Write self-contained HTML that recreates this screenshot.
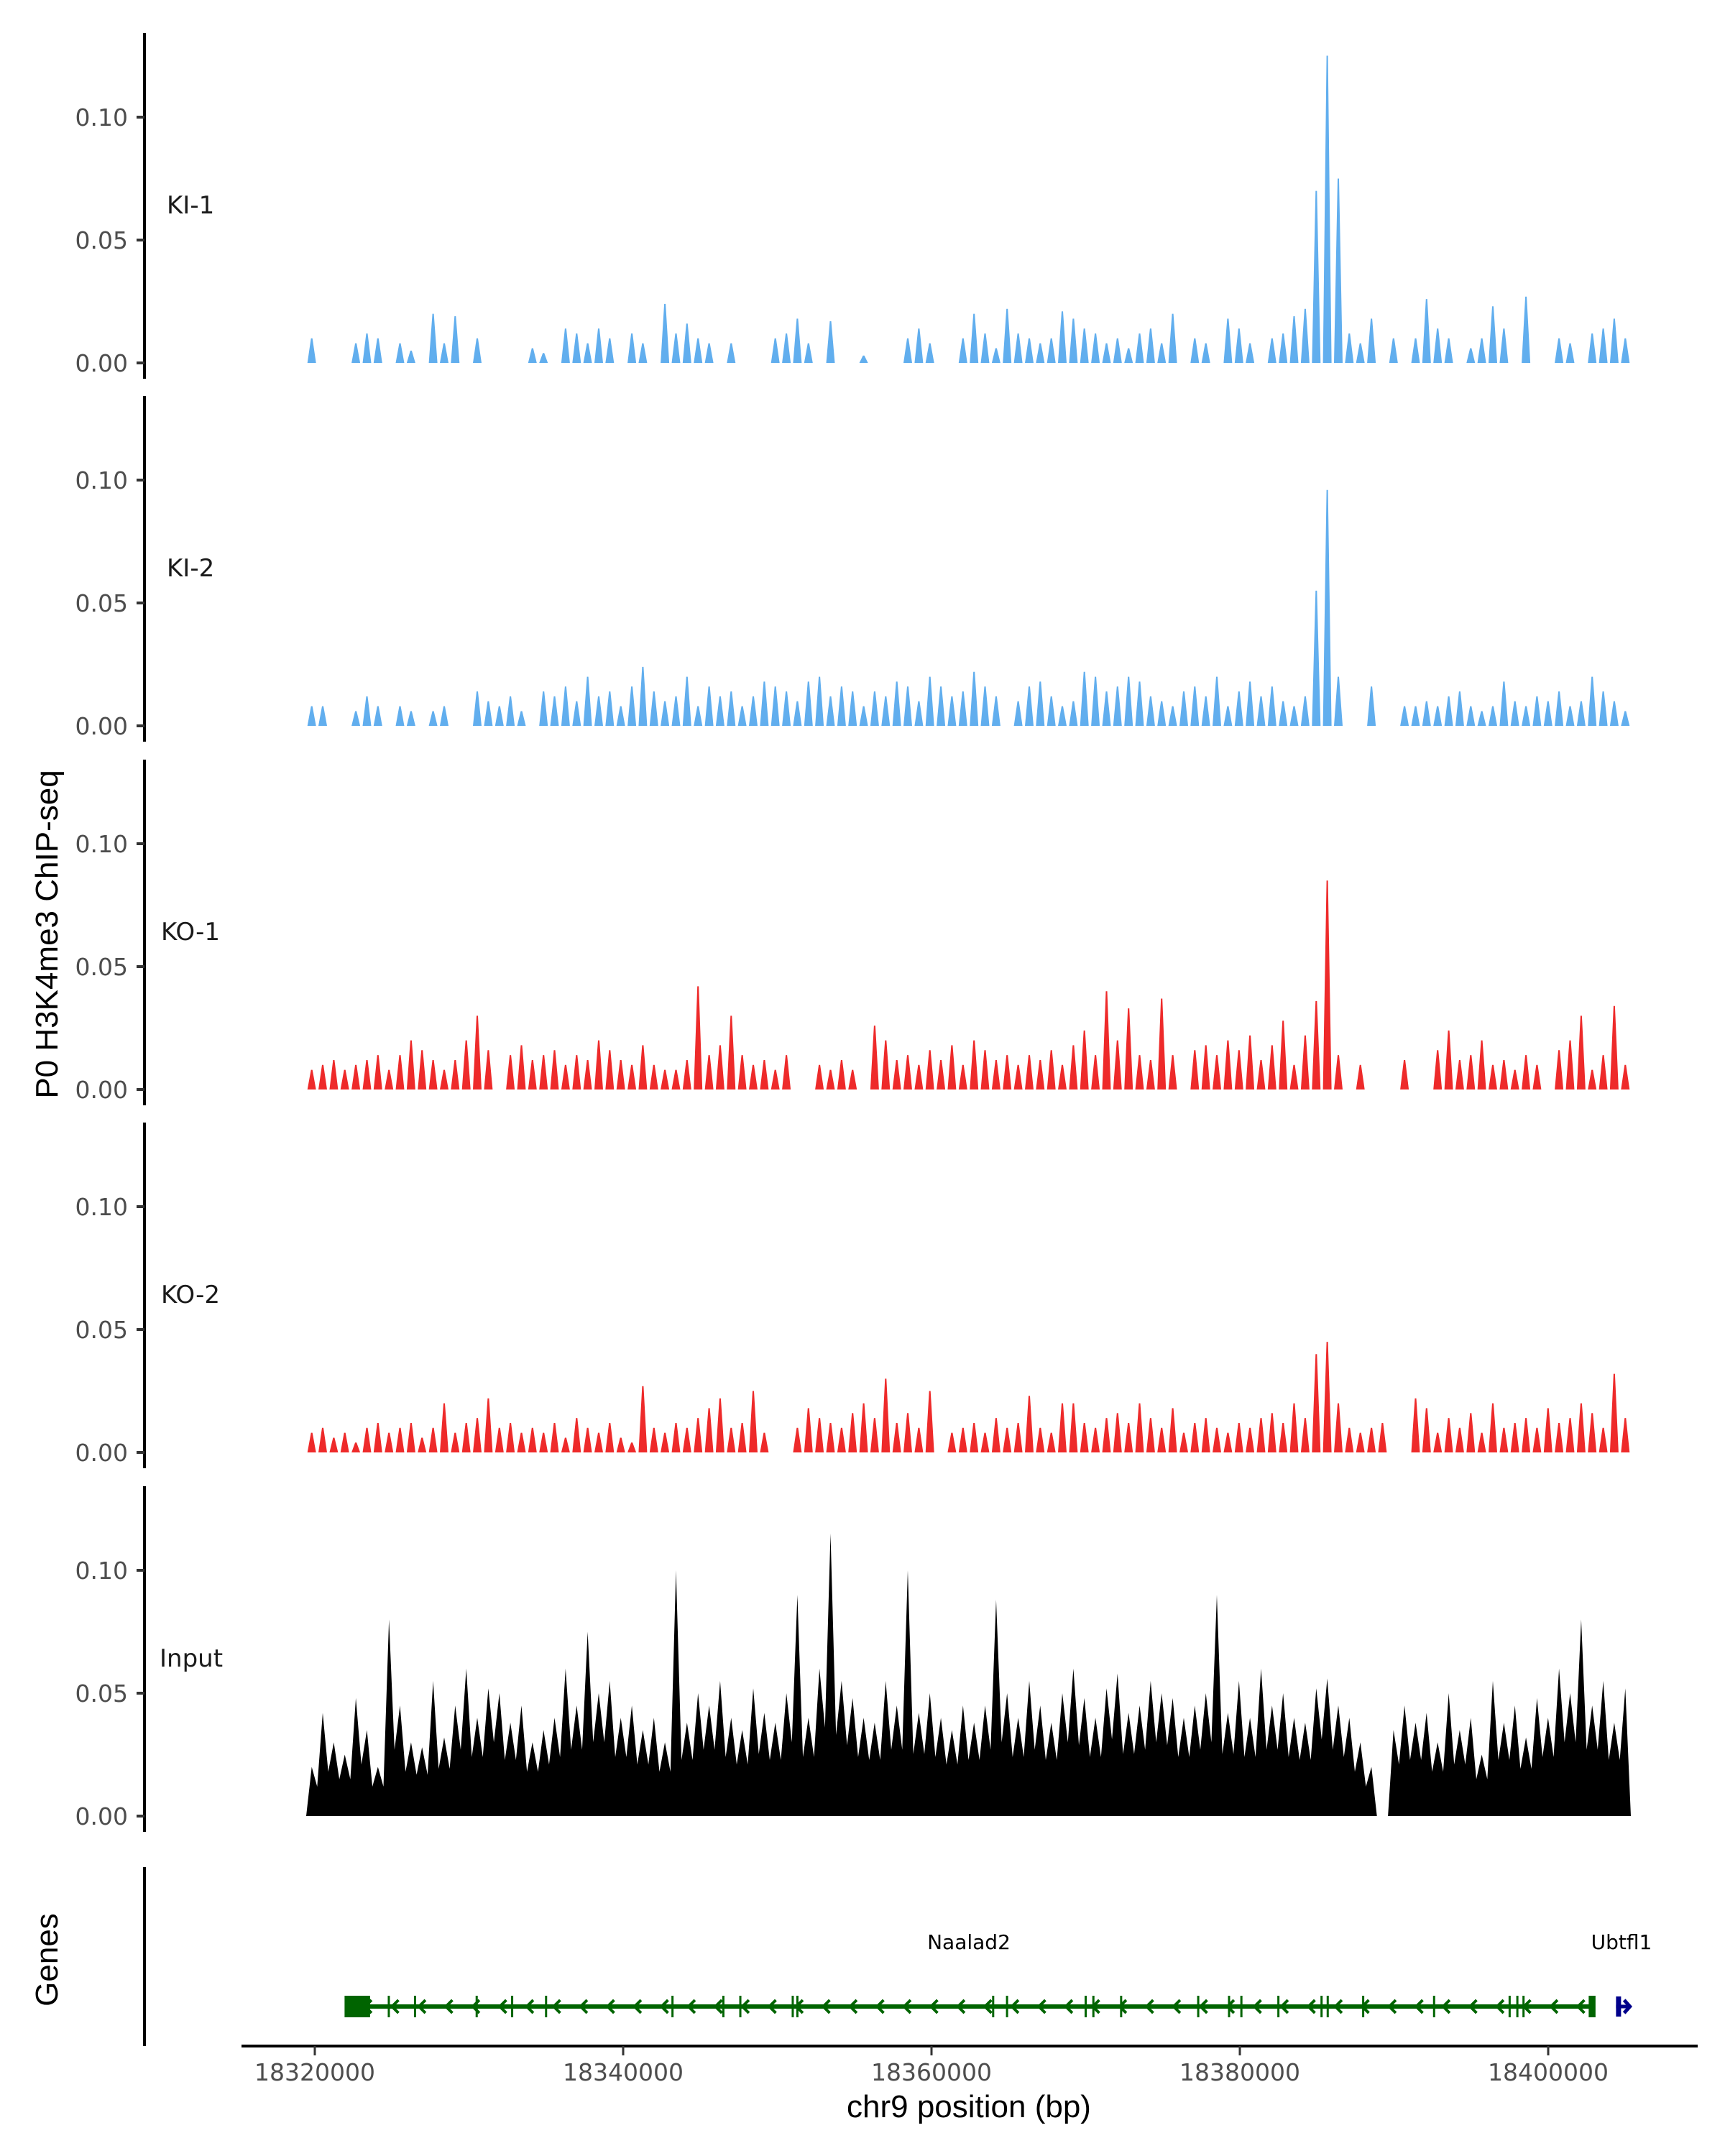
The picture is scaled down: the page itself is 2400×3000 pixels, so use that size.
<!DOCTYPE html>
<html><head><meta charset="utf-8"><style>
html,body{margin:0;padding:0;background:#fff}
svg{display:block}
text{font-family:"Liberation Sans","DejaVu Sans",sans-serif}
.tick{font-family:"DejaVu Sans","Liberation Sans",sans-serif}
</style></head><body>
<svg id="chart" width="2400" height="3000" viewBox="0 0 2400 3000" xmlns="http://www.w3.org/2000/svg">
<g id="tracks"></g>
<g id="genes"></g>
<g id="xaxis"></g>
<text x="80" y="1300" font-size="44" fill="#000" text-anchor="middle" transform="rotate(-90 80 1300)">P0 H3K4me3 ChIP-seq</text>
<text x="80" y="2727" font-size="44" fill="#000" text-anchor="middle" transform="rotate(-90 80 2727)">Genes</text>
<text x="1348" y="2946" font-size="44" fill="#000" text-anchor="middle">chr9 position (bp)</text>
</svg>
<script>
const trackNames = ["KI-1","KI-2","KO-1","KO-2","Input"];
const trackColors = ["#61aeee","#61aeee","#ee2a2a","#ee2a2a","#000000"];
const yTicks = [0, 0.05, 0.10];
const yTickLabels = ["0.00","0.05","0.10"];
const xTicks = [18320000,18340000,18360000,18380000,18400000];
const xTickLabels = ["18320000","18340000","18360000","18380000","18400000"];
const binStart = 18319440;
const binSize = 716;
const ki1 = [10,0,0,0,8,12,10,0,8,5, 0,20,8,19,0,10,0,0,0,0, 6,4,0,14,12,8,14,10,0,12, 8,0,24,12,16,10,8,0,8,0, 0,0,10,12,18,8,0,17,0,0, 3,0,0,0,10,14,8,0,0,10, 20,12,6,22,12,10,8,10,21,18, 14,12,8,10,6,12,14,8,20,0, 10,8,0,18,14,8,0,10,12,19, 22,70,125,75,12,8,18,0,10,0, 10,26,14,10,0,6,10,23,14,0, 27,0,0,10,8,0,12,14,18,10];
const ki2 = [8,8,0,0,6,12,8,0,8,6, 0,6,8,0,0,14,10,8,12,6, 0,14,12,16,10,20,12,14,8,16, 24,14,10,12,20,8,16,12,14,8, 12,18,16,14,10,18,20,12,16,14, 8,14,12,18,16,10,20,16,12,14, 22,16,12,0,10,16,18,12,8,10, 22,20,14,16,20,18,12,10,8,14, 16,12,20,8,14,18,12,16,10,8, 12,55,96,20,0,0,16,0,0,8, 8,10,8,12,14,8,6,8,18,10, 8,12,10,14,8,10,20,14,10,6];
const ko1 = [8,10,12,8,10,12,14,8,14,20, 16,12,8,12,20,30,16,0,14,18, 12,14,16,10,14,12,20,16,12,10, 18,10,8,8,12,42,14,18,30,14, 10,12,8,14,0,0,10,8,12,8, 0,26,20,12,14,10,16,12,18,10, 20,16,12,14,10,14,12,16,10,18, 24,14,40,20,33,14,12,37,14,0, 16,18,14,20,16,22,12,18,28,10, 22,36,85,14,0,10,0,0,0,12, 0,0,16,24,12,14,20,10,12,8, 14,10,0,16,20,30,8,14,34,10];
const ko2 = [8,10,6,8,4,10,12,8,10,12, 6,10,20,8,12,14,22,10,12,8, 10,8,12,6,14,10,8,12,6,4, 27,10,8,12,10,14,18,22,10,12, 25,8,0,0,10,18,14,12,10,16, 20,14,30,12,16,10,25,0,8,10, 12,8,14,10,12,23,10,8,20,20, 12,10,14,16,12,20,14,10,18,8, 12,14,10,8,12,10,14,16,12,20, 14,40,45,20,10,8,10,12,0,0, 22,18,8,14,10,16,8,20,10,12, 14,10,18,12,14,20,16,10,32,14];
const inputVals = [20,42,30,25,48,35,20,80,45,30, 28,55,32,45,60,40,52,50,38,45, 30,35,40,60,45,75,50,55,40,45, 35,40,30,100,38,50,45,55,40,35, 52,42,38,50,90,40,60,115,55,48, 40,38,55,45,100,42,50,40,35,45, 38,45,88,50,40,55,45,38,50,60, 48,40,52,58,42,45,55,50,48,40, 45,50,90,42,55,40,60,45,50,40, 38,52,56,45,40,30,20,0,35,45, 38,42,30,50,35,40,25,55,38,45, 32,48,40,60,50,80,45,55,38,52];
const seriesList = [ki1,ki2,ko1,ko2,inputVals];
const geneNames = ["Naalad2","Ubtfl1"];
const geneStarts = [18322000,18404400];
const geneEnds = [18403000,18405300];
const geneStrands = [-1,1];
const exonPos = [18322000,18324800,18326500,18330500,18332800,18335000,18343200,18346500,18347600,18351000,18351300,18364000,18364900,18370000,18370500,18372300,18377300,18379300,18380100,18382500,18385300,18385700,18388000,18392600,18397500,18398000,18398400,18403000];

const NS='http://www.w3.org/2000/svg';
function mk(tag, attrs, parent){const e=document.createElementNS(NS,tag);for(const k in attrs)e.setAttribute(k,attrs[k]);parent.appendChild(e);return e;}
const xScale = bp => 438 + (bp-18320000)/20000*429;
const zeros = [505,1010,1516,2021,2527];
const yScale = (i,v) => zeros[i] - v/0.05*171;
const tracksG=document.getElementById('tracks');
seriesList.forEach((vals,i)=>{
  const g=mk('g',{},tracksG);
  
  
  const ax=mk('line',{x1:201,x2:201,y1:zeros[i]-459,y2:zeros[i]+22,stroke:'#000','stroke-width':4},g);
  
  
  yTicks.forEach((t,k)=>{
    const y=yScale(i,t);
    const tk=mk('line',{x1:190,x2:201,y1:y,y2:y,stroke:'#333','stroke-width':4},g);
    
    
    const tl=mk('text',{x:178,y:y+12,'font-size':33,fill:'#4d4d4d','text-anchor':'end','class':'tick'},g);
    
    
    tl.textContent=yTickLabels[k];
  });
  const lab=mk('text',{x:i===4?222:(i>=2?224:232),y:zeros[i]-208,'font-size':34,fill:'#1a1a1a','class':'tick'},g);
  
  
  lab.textContent=trackNames[i];
  let d='';
  const z=zeros[i];
  if(i<4){
    vals.forEach((v,b)=>{
      if(v<=0)return;
      const cx=xScale(binStart+(b+0.5)*binSize);
      const y=yScale(i,v/1000);
      d+=`M${(cx-6).toFixed(1)},${z}L${(cx-1).toFixed(1)},${y.toFixed(1)}L${(cx+1).toFixed(1)},${y.toFixed(1)}L${(cx+6).toFixed(1)},${z}Z`;
    });
  } else {
    d=`M${xScale(binStart).toFixed(1)},${z}`;
    vals.forEach((v,b)=>{
      const cx=xScale(binStart+(b+0.5)*binSize);
      d+=`L${cx.toFixed(1)},${yScale(i,v/1000).toFixed(1)}`;
      if(b<vals.length-1){
        const mid=Math.min(v,vals[b+1])*0.6;
        d+=`L${(cx+binSize*429/40000).toFixed(1)},${yScale(i,mid/1000).toFixed(1)}`;
      }
    });
    d+=`L${xScale(binStart+vals.length*binSize).toFixed(1)},${z}Z`;
  }
  const p=mk('path',{d:d,fill:trackColors[i]},g);
  
  
});
// genes
const gG=document.getElementById('genes');
const gax=mk('line',{x1:201,x2:201,y1:2598,y2:2847,stroke:'#000','stroke-width':4},gG);


const gy=2792;
geneNames.forEach((n,i)=>{
  const g=mk('g',{},gG);
  
  
  const x1=xScale(geneStarts[i]), x2=xScale(geneEnds[i]);
  const col=i===0?'#006400':'#00008b';
  mk('line',{x1:x1,x2:x2,y1:gy,y2:gy,stroke:col,'stroke-width':i===0?6:5},g);
  const t=mk('text',{x:i===0?1348:2256,y:2712,'font-size':28,fill:'#000','text-anchor':'middle','class':'tick'},g);
  
  
  t.textContent=n;
  if(geneStrands[i]<0){
    for(let x=x1+30;x<x2-10;x+=37.5){
      mk('path',{d:`M${x+6},${gy-9}L${x-3},${gy}L${x+6},${gy+9}`,fill:'none',stroke:col,'stroke-width':4},g);
    }
    mk('rect',{x:x1,y:gy-15,width:34,height:30,fill:col},g);
    exonPos.forEach(e=>{const ex=xScale(e);mk('line',{x1:ex,x2:ex,y1:gy-15,y2:gy+15,stroke:col,'stroke-width':3},g);});
    mk('rect',{x:x2-8,y:gy-15,width:8,height:30,fill:col},g);
  } else {
    mk('rect',{x:x1,y:gy-14,width:7,height:28,fill:col},g);
    mk('path',{d:`M${x2-8},${gy-9}L${x2},${gy}L${x2-8},${gy+9}`,fill:'none',stroke:col,'stroke-width':5},g);
  }
});
// x axis
const xG=document.getElementById('xaxis');
const xl=mk('line',{x1:336,x2:2362,y1:2847,y2:2847,stroke:'#000','stroke-width':4},xG);


xTicks.forEach((t,k)=>{
  const x=xScale(t);
  const tk=mk('line',{x1:x,x2:x,y1:2847,y2:2860,stroke:'#333','stroke-width':3},xG);
  
  
  const tl=mk('text',{x:x,y:2895,'font-size':33,fill:'#4d4d4d','text-anchor':'middle','class':'tick'},xG);
  
  
  tl.textContent=xTickLabels[k];
});
</script>
</body></html>
